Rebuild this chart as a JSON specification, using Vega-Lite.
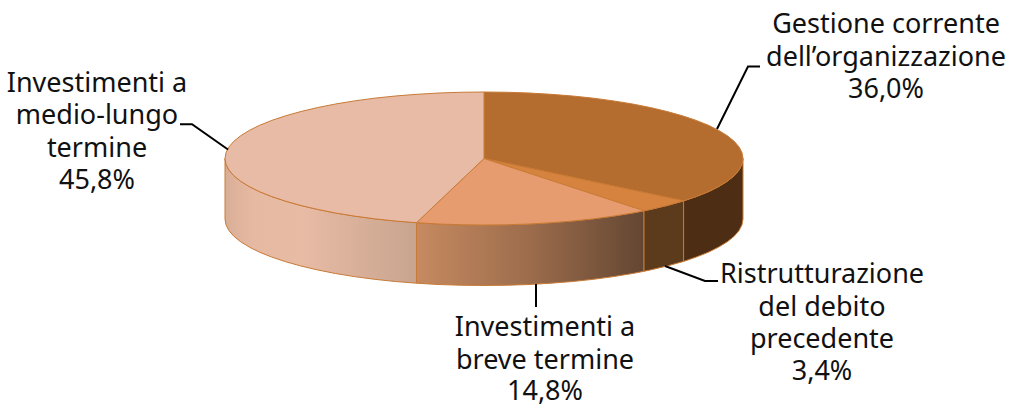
{"$schema":"https://vega.github.io/schema/vega-lite/v6.json","width":1011,"height":405,"padding":0,"autosize":{"type":"none"},"background":"white","view":{"stroke":null},
"datasets":{
"walls":[
{"part":"A","x":683.6,"y":200.9,"y2":261.4},{"part":"A","x":696.2,"y":196.6,"y2":257.1},{"part":"A","x":708.3,"y":191.75,"y2":252.25},{"part":"A","x":718.7,"y":186.6,"y2":247.1},{"part":"A","x":727.4,"y":181.2,"y2":241.7},{"part":"A","x":734.2,"y":175.7,"y2":236.2},{"part":"A","x":739.1,"y":170,"y2":230.5},{"part":"A","x":742,"y":164.3,"y2":224.8},{"part":"A","x":743,"y":158.5,"y2":219},
{"part":"B","x":644,"y":210.8,"y2":271.3},{"part":"B","x":650.5,"y":209.4,"y2":269.9},{"part":"B","x":667.1,"y":205.5,"y2":266},{"part":"B","x":683.6,"y":200.9,"y2":261.4},
{"part":"C","x":416.5,"y":222.7,"y2":283.2},{"part":"C","x":439,"y":224,"y2":284.5},{"part":"C","x":461.4,"y":224.75,"y2":285.25},{"part":"C","x":484,"y":225,"y2":285.5},{"part":"C","x":506.6,"y":224.75,"y2":285.25},{"part":"C","x":529,"y":224,"y2":284.5},{"part":"C","x":551,"y":222.7,"y2":283.2},{"part":"C","x":572.6,"y":221,"y2":281.5},{"part":"C","x":593.5,"y":218.8,"y2":279.3},{"part":"C","x":613.5,"y":216.1,"y2":276.6},{"part":"C","x":632.6,"y":213,"y2":273.5},{"part":"C","x":644,"y":210.8,"y2":271.3},
{"part":"D","x":225,"y":158.5,"y2":219},{"part":"D","x":226,"y":164.3,"y2":224.8},{"part":"D","x":228.9,"y":170,"y2":230.5},{"part":"D","x":233.8,"y":175.7,"y2":236.2},{"part":"D","x":240.6,"y":181.2,"y2":241.7},{"part":"D","x":249.3,"y":186.6,"y2":247.1},{"part":"D","x":259.7,"y":191.75,"y2":252.25},{"part":"D","x":271.8,"y":196.6,"y2":257.1},{"part":"D","x":285.6,"y":201.2,"y2":261.7},{"part":"D","x":300.9,"y":205.5,"y2":266},{"part":"D","x":317.5,"y":209.4,"y2":269.9},{"part":"D","x":335.4,"y":213,"y2":273.5},{"part":"D","x":354.5,"y":216.1,"y2":276.6},{"part":"D","x":374.5,"y":218.8,"y2":279.3},{"part":"D","x":395.4,"y":221,"y2":281.5},{"part":"D","x":416.5,"y":222.7,"y2":283.2}
],
"tops":[
{"slice":"Gestione corrente","o":0,"x":484,"y":158.5},{"slice":"Gestione corrente","o":1,"x":484,"y":92},{"slice":"Gestione corrente","o":2,"x":506.6,"y":92.25},{"slice":"Gestione corrente","o":3,"x":529,"y":93},{"slice":"Gestione corrente","o":4,"x":551,"y":94.3},{"slice":"Gestione corrente","o":5,"x":572.6,"y":96},{"slice":"Gestione corrente","o":6,"x":593.5,"y":98.2},{"slice":"Gestione corrente","o":7,"x":613.5,"y":100.9},{"slice":"Gestione corrente","o":8,"x":632.6,"y":104},{"slice":"Gestione corrente","o":9,"x":650.5,"y":107.6},{"slice":"Gestione corrente","o":10,"x":667.1,"y":111.5},{"slice":"Gestione corrente","o":11,"x":682.4,"y":115.8},{"slice":"Gestione corrente","o":12,"x":696.2,"y":120.4},{"slice":"Gestione corrente","o":13,"x":708.3,"y":125.25},{"slice":"Gestione corrente","o":14,"x":718.7,"y":130.4},{"slice":"Gestione corrente","o":15,"x":727.4,"y":135.8},{"slice":"Gestione corrente","o":16,"x":734.2,"y":141.3},{"slice":"Gestione corrente","o":17,"x":739.1,"y":147},{"slice":"Gestione corrente","o":18,"x":742,"y":152.7},{"slice":"Gestione corrente","o":19,"x":743,"y":158.5},{"slice":"Gestione corrente","o":20,"x":742,"y":164.3},{"slice":"Gestione corrente","o":21,"x":739.1,"y":170},{"slice":"Gestione corrente","o":22,"x":734.2,"y":175.7},{"slice":"Gestione corrente","o":23,"x":727.4,"y":181.2},{"slice":"Gestione corrente","o":24,"x":718.7,"y":186.6},{"slice":"Gestione corrente","o":25,"x":708.3,"y":191.75},{"slice":"Gestione corrente","o":26,"x":696.2,"y":196.6},{"slice":"Gestione corrente","o":27,"x":683.6,"y":200.9},
{"slice":"Ristrutturazione","o":0,"x":484,"y":158.5},{"slice":"Ristrutturazione","o":1,"x":683.6,"y":200.9},{"slice":"Ristrutturazione","o":2,"x":667.1,"y":205.5},{"slice":"Ristrutturazione","o":3,"x":650.5,"y":209.4},{"slice":"Ristrutturazione","o":4,"x":644,"y":210.8},
{"slice":"Breve termine","o":0,"x":484,"y":158.5},{"slice":"Breve termine","o":1,"x":644,"y":210.8},{"slice":"Breve termine","o":2,"x":632.6,"y":213},{"slice":"Breve termine","o":3,"x":613.5,"y":216.1},{"slice":"Breve termine","o":4,"x":593.5,"y":218.8},{"slice":"Breve termine","o":5,"x":572.6,"y":221},{"slice":"Breve termine","o":6,"x":551,"y":222.7},{"slice":"Breve termine","o":7,"x":529,"y":224},{"slice":"Breve termine","o":8,"x":506.6,"y":224.75},{"slice":"Breve termine","o":9,"x":484,"y":225},{"slice":"Breve termine","o":10,"x":461.4,"y":224.75},{"slice":"Breve termine","o":11,"x":439,"y":224},{"slice":"Breve termine","o":12,"x":416.5,"y":222.7},
{"slice":"Medio-lungo termine","o":0,"x":484,"y":158.5},{"slice":"Medio-lungo termine","o":1,"x":416.5,"y":222.7},{"slice":"Medio-lungo termine","o":2,"x":395.4,"y":221},{"slice":"Medio-lungo termine","o":3,"x":374.5,"y":218.8},{"slice":"Medio-lungo termine","o":4,"x":354.5,"y":216.1},{"slice":"Medio-lungo termine","o":5,"x":335.4,"y":213},{"slice":"Medio-lungo termine","o":6,"x":317.5,"y":209.4},{"slice":"Medio-lungo termine","o":7,"x":300.9,"y":205.5},{"slice":"Medio-lungo termine","o":8,"x":285.6,"y":201.2},{"slice":"Medio-lungo termine","o":9,"x":271.8,"y":196.6},{"slice":"Medio-lungo termine","o":10,"x":259.7,"y":191.75},{"slice":"Medio-lungo termine","o":11,"x":249.3,"y":186.6},{"slice":"Medio-lungo termine","o":12,"x":240.6,"y":181.2},{"slice":"Medio-lungo termine","o":13,"x":233.8,"y":175.7},{"slice":"Medio-lungo termine","o":14,"x":228.9,"y":170},{"slice":"Medio-lungo termine","o":15,"x":226,"y":164.3},{"slice":"Medio-lungo termine","o":16,"x":225,"y":158.5},{"slice":"Medio-lungo termine","o":17,"x":226,"y":152.7},{"slice":"Medio-lungo termine","o":18,"x":228.9,"y":147},{"slice":"Medio-lungo termine","o":19,"x":233.8,"y":141.3},{"slice":"Medio-lungo termine","o":20,"x":240.6,"y":135.8},{"slice":"Medio-lungo termine","o":21,"x":249.3,"y":130.4},{"slice":"Medio-lungo termine","o":22,"x":259.7,"y":125.25},{"slice":"Medio-lungo termine","o":23,"x":271.8,"y":120.4},{"slice":"Medio-lungo termine","o":24,"x":285.6,"y":115.8},{"slice":"Medio-lungo termine","o":25,"x":300.9,"y":111.5},{"slice":"Medio-lungo termine","o":26,"x":317.5,"y":107.6},{"slice":"Medio-lungo termine","o":27,"x":335.4,"y":104},{"slice":"Medio-lungo termine","o":28,"x":354.5,"y":100.9},{"slice":"Medio-lungo termine","o":29,"x":374.5,"y":98.2},{"slice":"Medio-lungo termine","o":30,"x":395.4,"y":96},{"slice":"Medio-lungo termine","o":31,"x":417,"y":94.3},{"slice":"Medio-lungo termine","o":32,"x":439,"y":93},{"slice":"Medio-lungo termine","o":33,"x":461.4,"y":92.25},{"slice":"Medio-lungo termine","o":34,"x":484,"y":92}
],
"leaders":[
{"l":"a","o":0,"x":717,"y":129},{"l":"a","o":1,"x":748,"y":66.5},{"l":"a","o":2,"x":760,"y":66.5},
{"l":"b","o":0,"x":665,"y":266},{"l":"b","o":1,"x":705,"y":281},{"l":"b","o":2,"x":718,"y":281},
{"l":"c","o":0,"x":536,"y":284},{"l":"c","o":1,"x":536,"y":307},
{"l":"d","o":0,"x":180,"y":124.3},{"l":"d","o":1,"x":192,"y":124.3},{"l":"d","o":2,"x":228,"y":149.5}
],
"labels":[
{"t":"Gestione corrente","x":886,"y":33},{"t":"dell’organizzazione","x":886,"y":65.5},{"t":"36,0%","x":886,"y":98},
{"t":"Ristrutturazione","x":822,"y":283},{"t":"del debito","x":822,"y":316},{"t":"precedente","x":822,"y":348},{"t":"3,4%","x":822,"y":380},
{"t":"Investimenti a","x":545,"y":336},{"t":"breve termine","x":545,"y":369},{"t":"14,8%","x":545,"y":400},
{"t":"Investimenti a","x":97,"y":92},{"t":"medio-lungo","x":97,"y":124},{"t":"termine","x":97,"y":156.5},{"t":"45,8%","x":97,"y":189}
]},
"encoding":{"x":{"field":"x","type":"quantitative","scale":{"domain":[0,1011],"nice":false,"zero":false},"axis":null},"y":{"field":"y","type":"quantitative","scale":{"domain":[405,0],"nice":false,"zero":false},"axis":null}},
"layer":[
{"data":{"name":"walls"},"transform":[{"filter":"datum.part==='D'"}],"mark":{"type":"area","stroke":"#c87a35","strokeWidth":1,"fill":{"gradient":"linear","x1":0,"y1":0,"x2":1,"y2":0,"stops":[{"offset":0,"color":"#d9ae97"},{"offset":0.15,"color":"#e6b9a2"},{"offset":0.4,"color":"#e8bba5"},{"offset":1,"color":"#c8a48e"}]}},"encoding":{"y2":{"field":"y2"}}},
{"data":{"name":"walls"},"transform":[{"filter":"datum.part==='C'"}],"mark":{"type":"area","stroke":"#c87a35","strokeWidth":1,"fill":{"gradient":"linear","x1":0,"y1":0,"x2":1,"y2":0,"stops":[{"offset":0,"color":"#c68a60"},{"offset":0.5,"color":"#9c6c4c"},{"offset":1,"color":"#634632"}]}},"encoding":{"y2":{"field":"y2"}}},
{"data":{"name":"walls"},"transform":[{"filter":"datum.part==='B'"}],"mark":{"type":"area","stroke":"#c87a35","strokeWidth":1,"fill":"#5c3a1c"},"encoding":{"y2":{"field":"y2"}}},
{"data":{"name":"walls"},"transform":[{"filter":"datum.part==='A'"}],"mark":{"type":"area","stroke":"#c87a35","strokeWidth":1,"fill":"#4d2e14"},"encoding":{"y2":{"field":"y2"}}},
{"data":{"name":"tops"},"mark":{"type":"line","interpolate":"linear-closed","stroke":"#c87a35","strokeWidth":1},"encoding":{"order":{"field":"o"},"fill":{"field":"slice","type":"nominal","legend":null,"scale":{"domain":["Gestione corrente","Ristrutturazione","Breve termine","Medio-lungo termine"],"range":["#b56c2f","#d5833e","#e79c70","#e8bba6"]}}}},
{"data":{"name":"leaders"},"mark":{"type":"line","stroke":"#000000","strokeWidth":2},"encoding":{"order":{"field":"o"},"detail":{"field":"l"}}},
{"data":{"name":"labels"},"mark":{"type":"text","align":"center","baseline":"alphabetic","font":"Noto Sans","fontSize":27,"fill":"#111111"},"encoding":{"text":{"field":"t"}}}
]}
